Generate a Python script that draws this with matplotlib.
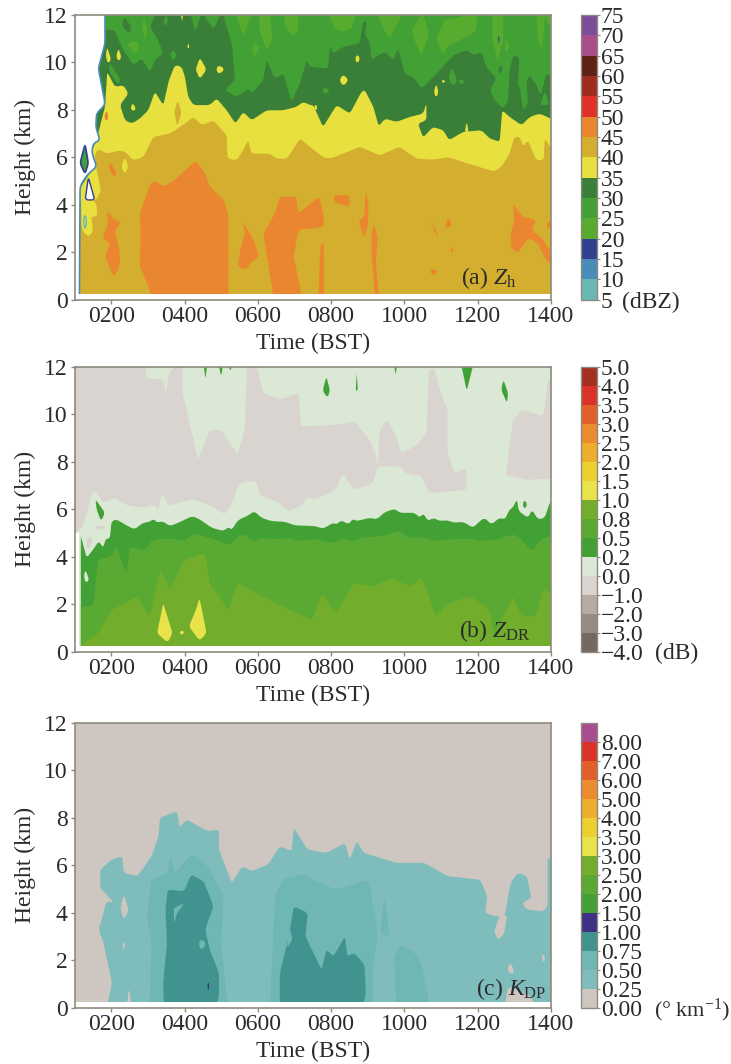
import matplotlib
matplotlib.use('Agg')
import matplotlib.pyplot as plt
from matplotlib.cm import ScalarMappable
from matplotlib.colors import BoundaryNorm, ListedColormap

plt.rcParams['font.family'] = ['Liberation Serif', 'DejaVu Serif']
plt.rcParams['mathtext.fontset'] = 'custom'
plt.rcParams['mathtext.rm'] = 'Liberation Serif'
plt.rcParams['mathtext.it'] = 'Liberation Serif:italic'

TXT = '#2b2b2b'
SPINE = '#8f8a7e'

# colour bars, bottom band first
zh_levels = [5, 10, 15, 20, 25, 30, 35, 40, 45, 50, 55, 60, 65, 70, 75]
zh_labels = ['5', '10', '15', '20', '25', '30', '35', '40', '45', '50', '55', '60', '65', '70', '75']
zh_colors = ['#68b8b5', '#4a8cb9', '#33408f', '#57ab2e', '#41a135', '#3a7f37', '#e8e03e',
             '#d4ae2e', '#ea8630', '#e03228', '#a02c20', '#5f2015', '#a84e8c', '#7a4e98']

zdr_levels = [-4, -3, -2, -1, 0, 0.2, 0.5, 0.8, 1, 1.5, 2, 2.5, 3, 3.5, 4, 5]
zdr_labels = ['\u22124.0', '\u22123.0', '\u22122.0', '\u22121.0', '0.0', '0.2', '0.5', '0.8',
              '1.0', '1.5', '2.0', '2.5', '3.0', '3.5', '4.0', '5.0']
zdr_colors = ['#746860', '#978c84', '#b5aba4', '#dad4d0', '#dbe8d5', '#41a135', '#5aa932', '#72ae2c',
              '#e8e34a', '#ebd030', '#edae2e', '#eb8c2e', '#e35f2a', '#d9332a', '#a22f20']

kdp_levels = [0, 0.25, 0.5, 0.75, 1, 1.5, 2, 2.5, 3, 3.5, 4, 5, 6, 7, 8, 9]
kdp_labels = ['0.00', '0.25', '0.50', '0.75', '1.00', '1.50', '2.00', '2.50', '3.00', '3.50',
              '4.00', '5.00', '6.00', '7.00', '8.00']
kdp_colors = ['#cec6c0', '#7fbdbd', '#6fb7b3', '#41938f', '#3f2f85', '#41a135', '#5aa932', '#72ae2c',
              '#e8e34a', '#ebd030', '#edae2e', '#eb8c2e', '#e35f2a', '#d9332a', '#a84e90']

time_ticks = [2, 4, 6, 8, 10, 12, 14]
time_labels = ['0200', '0400', '0600', '0800', '1000', '1200', '1400']
height_ticks = [0, 2, 4, 6, 8, 10, 12]

# ---- panel a, contour outlines as (hour, km) ----
zh_30_top = [(1.0, 11.5), (2.10, 11.36), (2.28, 10.66), (2.60, 9.89), (2.83, 10.17), (3.06, 9.6), (3.19, 10.1),
             (3.42, 10.38), (3.28, 10.94), (3.06, 11.5), (3.22, 12.1), (5.05, 12.1), (5.15, 11.5), (5.29, 10.8),
             (5.375, 9.25), (5.10, 8.83), (5.42, 8.55), (5.74, 8.9), (5.83, 8.69), (6.15, 9.25), (6.24, 10.1),
             (6.47, 9.32), (6.69, 9.53), (6.92, 8.34), (7.15, 9.11), (7.33, 10.1), (7.42, 9.82), (7.87, 9.75),
             (7.92, 9.82), (7.97, 10.73), (8.06, 10.38), (8.33, 10.66), (8.78, 10.8), (8.87, 11.72), (8.97, 11.72),
             (8.92, 11.2), (9.06, 10.8), (9.10, 10.1), (9.28, 10.3), (9.47, 10.45), (9.69, 10.1), (9.83, 10.59),
             (10.01, 9.53), (10.24, 9.39), (10.47, 8.9), (10.92, 9.6), (11.33, 10.3), (11.69, 10.52), (11.92, 10.3),
             (12.1, 10.45), (12.24, 9.8), (12.51, 9.32), (12.33, 8.83), (12.47, 8.4), (12.69, 8.05), (12.83, 8.4),
             (12.87, 9.67), (12.97, 10.3), (13.13, 10.24), (13.1, 8.97), (13.15, 8.97), (13.24, 7.98), (13.37, 8.27),
             (13.33, 9.25), (13.42, 9.46), (13.6, 9.04), (13.72, 8.6), (13.87, 9.53), (14.1, 9.4)]
zh_35_top = [(1.0, 6.0), (1.15, 4.7), (1.4, 5.3), (1.6, 5.6), (1.45, 6.2), (1.6, 6.75), (1.83, 8.13), (1.89, 9.6),
             (2.10, 8.97), (2.33, 9.04), (2.47, 8.69), (2.24, 8.2), (2.375, 7.56), (2.56, 7.42), (2.78, 7.63),
             (3.01, 7.98), (3.19, 8.76), (3.42, 8.2), (3.575, 9.25), (3.74, 9.89), (3.92, 9.82), (4.01, 9.39),
             (4.10, 8.55), (4.24, 8.2), (4.69, 8.2), (4.875, 8.48), (5.15, 7.98), (5.39, 7.42), (5.6, 7.91),
             (5.83, 7.56), (6.24, 7.98), (6.69, 7.98), (7.06, 8.13), (7.24, 8.34), (7.42, 8.2), (7.51, 8.2),
             (7.78, 7.28), (8.15, 8.2), (8.51, 7.84), (8.83, 8.76), (8.92, 8.83), (9.15, 8.13), (9.30, 7.31),
             (9.47, 7.63), (9.78, 7.49), (10.15, 7.7), (10.51, 7.84), (10.6, 8.27), (10.6, 7.56), (10.37, 7.42),
             (10.51, 6.83), (10.78, 7.28), (11.06, 7.14), (11.22, 6.72), (11.6, 7.07), (12.1, 7.14), (12.33, 6.79),
             (12.6, 6.65), (12.67, 7.98), (12.87, 7.7), (13.2, 7.35), (13.42, 7.7), (13.69, 7.84), (14.1, 7.56)]
zh_40_top = [(1.0, 4.2), (1.6, 4.2), (1.72, 4.6), (1.6, 5.5), (1.55, 6.1), (1.65, 6.36), (1.875, 6.15), (2.24, 6.29),
             (2.4, 6.2), (2.6, 5.87), (2.875, 6.01), (3.15, 6.86), (3.6, 7.0), (4.01, 7.42), (4.24, 7.7), (4.47, 7.35),
             (4.78, 7.56), (5.15, 6.93), (5.175, 5.94), (5.42, 5.87), (5.6, 6.3), (5.74, 6.72), (5.83, 6.15),
             (6.33, 6.15), (6.51, 5.94), (6.8, 5.94), (7.15, 6.79), (7.42, 6.44), (7.78, 6.0), (7.97, 5.94),
             (8.33, 6.15), (8.78, 6.44), (9.33, 6.08), (9.87, 6.44), (10.33, 5.94), (10.8, 5.9), (11.2, 6.0),
             (11.7, 5.75), (12.45, 5.4), (12.65, 5.6), (12.87, 6.15), (13.0, 6.86), (13.15, 6.86), (13.24, 6.44),
             (13.37, 6.72), (13.6, 5.87), (13.8, 5.87), (13.83, 6.79), (14.1, 6.15)]

zh_45_blobs = [
    [(3.15, 0.25), (3.03, 0.5), (2.78, 1.4), (2.8, 2.8), (2.78, 3.63), (3.04, 4.76), (3.16, 5.04), (3.42, 4.76),
     (3.67, 4.97), (4.31, 5.85), (4.56, 5.32), (4.69, 4.76), (5.07, 4.2), (5.2, 3.5), (5.2, 0.25)],
    [(1.875, 3.76), (2.06, 3.4), (2.28, 3.27), (2.1, 2.9), (2.22, 2.07), (2.24, 1.5), (2.08, 0.94), (1.83, 1.79),
     (1.97, 2.35), (1.76, 2.63), (1.92, 3.2)],
    [(1.97, 5.8), (2.15, 5.3), (2.06, 5.17), (1.92, 5.6)],
    [(5.58, 3.28), (5.9, 2.5), (6.03, 1.8), (5.77, 1.52), (5.71, 1.24), (5.45, 1.38), (5.52, 2.08), (5.65, 2.79)],
    [(6.6, 4.34), (7.04, 4.34), (7.1, 3.63), (7.68, 4.34), (7.8, 3.49), (7.8, 3.07), (7.1, 2.93), (6.98, 1.8),
     (7.17, 0.39), (7.17, 0.25), (6.47, 0.25), (6.15, 2.79), (6.47, 3.63)],
    [(7.72, 2.37), (7.8, 2.37), (7.8, 0.25), (7.65, 0.25), (7.68, 1.4)],
    [(8.06, 4.4), (8.5, 4.4), (8.5, 3.9), (8.1, 4.1)],
    [(8.95, 4.55), (9.02, 4.0), (9.0, 3.1), (8.9, 2.6), (8.75, 3.3), (8.9, 3.5)],
    [(9.17, 3.2), (9.27, 2.6), (9.22, 1.5), (9.33, 0.25), (9.22, 0.25), (9.1, 2.0), (9.1, 2.7)],
    [(10.73, 3.28), (10.95, 2.65), (10.85, 2.75)],
    [(11.2, 3.5), (11.3, 3.1), (11.1, 3.0)],
    [(11.3, 2.3), (11.35, 2.0), (11.25, 2.0)],
    [(10.7, 1.3), (10.95, 1.2), (10.75, 1.0)],
    [(12.96, 4.05), (13.21, 3.5), (13.6, 3.35), (13.47, 2.93), (13.72, 2.65), (14.1, 1.8), (14.1, 1.3), (13.85, 1.7),
     (13.65, 2.35), (13.4, 2.6), (13.2, 2.2), (13.09, 1.95), (12.9, 2.2), (12.9, 2.8), (13.0, 3.3)],
    [(14.1, 3.6), (13.85, 3.1), (14.1, 2.9)],
    [(1.87, 8.0), (1.93, 7.7), (1.87, 7.5), (1.8, 7.7)],
]
zh_40_blobs = [
    [(3.81, 8.4), (3.92, 7.9), (3.8, 7.3), (3.72, 7.9)],
]
zh_35_blobs = [
    [(1.89, 10.65), (2.0, 10.1), (1.9, 9.95), (1.85, 10.3)], [(2.2, 10.6), (2.28, 10.2), (2.2, 10.05), (2.13, 10.25)],
    [(4.42, 10.2), (4.6, 9.7), (4.42, 9.3), (4.3, 9.7)], [(4.94, 9.9), (5.1, 9.7), (4.94, 9.5), (4.85, 9.7)],
    [(2.6, 8.3), (2.68, 8.0), (2.58, 7.95), (2.52, 8.1)], [(4.1, 10.85), (4.14, 10.6), (4.07, 10.6)],
    [(3.9, 12.1), (3.97, 12.1), (3.93, 11.7)], [(8.33, 9.5), (8.48, 9.25), (8.33, 9.0), (8.22, 9.25)],
    [(8.71, 10.35), (8.8, 10.15), (8.71, 9.95), (8.65, 10.15)], [(10.87, 9.1), (10.93, 8.75), (10.87, 8.5), (10.8, 8.75)],
    [(11.0, 9.25), (11.13, 9.25), (11.06, 9.1)], [(11.7, 7.5), (11.75, 7.1), (11.7, 6.9), (11.65, 7.1)],
    [(7.58, 8.25), (7.63, 8.1), (7.58, 7.95), (7.53, 8.1)], [(2.37, 6.0), (2.47, 5.6), (2.37, 5.3), (2.27, 5.6)],
    [(1.27, 4.6), (1.6, 4.0), (1.62, 3.5), (1.45, 3.5), (1.5, 3.0), (1.45, 2.7), (1.3, 2.7), (1.2, 3.0), (1.17, 4.4)],
]
zh_25_blobs = [
    [(3.68, 10.55), (3.8, 10.3), (3.68, 10.05), (3.6, 10.3)], [(3.5, 12.1), (3.55, 11.7), (3.47, 11.5), (3.43, 11.7)],
    [(4.15, 12.1), (4.47, 12.1), (4.3, 11.3)], [(4.51, 12.1), (5.0, 12.1), (4.8, 11.4), (4.6, 11.8)],
    [(1.95, 10.0), (2.25, 9.3), (2.2, 9.05), (1.95, 9.6)], [(11.3, 9.8), (11.45, 9.2), (11.3, 9.0), (11.2, 9.4)],
    [(11.55, 9.3), (11.65, 9.2), (11.55, 9.05), (11.47, 9.2)], [(7.83, 8.95), (7.98, 8.8), (7.83, 8.65), (7.75, 8.8)],
    [(13.7, 8.2), (13.83, 8.8), (13.95, 8.2)],
]
zh_30_blobs = [
    [(2.35, 11.95), (2.55, 11.5), (2.5, 11.2), (2.3, 11.5)], [(12.58, 9.85), (12.68, 9.85), (12.66, 9.55), (12.57, 9.55)],
]
zh_20_blobs = [
    [(2.42, 10.8), (2.75, 10.9), (2.72, 10.4), (2.6, 10.4)], [(2.88, 11.9), (3.0, 11.4), (2.92, 10.9), (2.85, 11.4)],
    [(5.38, 12.1), (5.85, 12.1), (5.6, 11.1)], [(6.03, 12.1), (6.33, 12.1), (6.4, 11.0), (6.25, 10.5), (6.05, 11.3)],
    [(6.7, 12.1), (7.1, 12.1), (7.1, 11.3), (6.95, 11.1), (6.75, 11.5)], [(5.9, 10.85), (6.05, 10.6), (5.9, 10.2), (5.85, 10.6)],
    [(7.92, 12.1), (8.7, 12.1), (8.55, 11.4), (8.3, 11.3), (8.1, 11.4)],
    [(9.25, 12.1), (9.95, 12.1), (9.8, 11.6), (9.6, 11.0), (9.4, 11.5)],
    [(10.2, 11.4), (10.5, 12.1), (10.67, 11.2), (10.47, 10.25), (10.25, 11.0)],
    [(10.87, 11.0), (11.1, 11.8), (11.5, 11.9), (11.85, 12.1), (12.0, 12.1), (11.95, 11.3), (11.6, 11.0), (11.2, 10.7), (11.05, 10.3)],
    [(12.4, 12.1), (12.7, 12.1), (12.7, 11.0), (12.55, 10.0), (12.4, 11.0)], [(12.75, 11.0), (12.9, 10.7), (12.75, 10.4)],
    [(13.6, 12.1), (13.85, 12.1), (13.8, 11.3), (13.75, 10.6), (13.65, 10.9)], [(13.85, 12.1), (14.1, 12.1), (14.1, 11.6), (13.9, 11.6)],
]
zh_15_blobs = [[(12.55, 11.1), (12.6, 11.1), (12.58, 10.7)]]
# no echo to the left of this outline
zh_no_echo = [(0.8, 12.4), (1.83, 12.4), (1.83, 10.8), (1.65, 9.75), (1.83, 8.27), (1.78, 8.13), (1.6, 7.85), (1.58, 7.28),
              (1.69, 6.72), (1.51, 6.58), (1.47, 6.22), (1.6, 5.6), (1.375, 5.3), (1.23, 5.0), (1.15, 4.74), (1.13, -0.2), (0.8, -0.2)]
zh_hole = [(1.375, 5.15), (1.55, 4.2), (1.29, 4.2)]
zh_diamond = [(1.285, 6.55), (1.15, 5.75), (1.285, 5.3), (1.375, 5.75)]
zh_small_diamond = [(1.285, 3.6), (1.33, 3.3), (1.285, 2.95), (1.24, 3.3)]

# ---- panel b ----
zdr_neg_main = [(0.8, 12.2), (2.91, 12.2), (2.97, 11.53), (3.42, 11.46), (3.48, 10.9), (3.61, 11.88), (3.95, 12.1), (3.95, 10.9),
                (4.18, 9.35), (4.37, 8.09), (4.69, 9.35), (5.01, 9.35), (5.45, 8.3), (5.64, 9.35), (5.71, 12.1), (5.96, 12.1),
                (6.15, 10.9), (6.6, 10.62), (7.11, 10.9), (7.17, 9.49), (8.12, 9.56), (8.63, 9.7), (9.02, 9.0), (9.24, 8.23),
                (9.27, 7.74), (9.33, 9.35), (9.52, 9.77), (9.78, 9.07), (9.9, 8.37), (10.29, 8.65), (10.6, 9.21), (10.67, 11.88),
                (10.82, 11.95), (10.99, 10.9), (11.18, 10.2), (11.18, 8.37), (11.37, 7.52), (11.69, 7.74), (11.69, 6.82),
                (10.67, 6.68), (10.48, 7.38), (10.03, 7.52), (9.9, 7.81), (9.27, 7.81), (9.14, 7.1), (8.63, 6.82), (8.32, 7.52),
                (8.12, 6.82), (7.56, 6.42), (7.33, 6.49), (7.19, 6.14), (6.83, 5.92), (6.56, 6.28), (6.05, 6.63), (5.96, 7.17),
                (5.58, 7.17), (5.42, 6.84), (5.35, 6.42), (5.1, 5.78), (4.74, 6.14), (4.24, 6.42), (3.83, 6.28), (3.56, 6.14),
                (3.39, 6.7), (3.28, 5.92), (3.19, 6.2), (2.83, 6.07), (2.37, 6.2), (2.1, 6.49), (1.78, 6.28), (1.69, 6.49),
                (1.6, 6.77), (1.46, 6.7), (1.37, 6.0), (1.19, 5.15), (0.8, 4.9)]
zdr_neg_right = [(12.77, 7.45), (12.96, 9.77), (13.21, 10.2), (13.79, 9.92), (13.91, 11.32), (14.1, 11.74), (14.1, 7.3), (13.34, 7.24)]
zdr_neg_blobs = [[(1.35, 4.85), (1.5, 4.8), (1.4, 4.3), (1.32, 4.4)], [(1.56, 5.3), (1.82, 5.3), (1.82, 5.15), (1.56, 5.15)]]
zdr_02_top = [(1.17, 4.87), (1.33, 3.95), (1.54, 4.37), (1.66, 4.66), (1.78, 4.37), (1.85, 4.76), (1.96, 4.76), (2.01, 5.5),
              (2.15, 5.57), (2.37, 5.36), (2.63, 5.15), (2.87, 5.43), (3.03, 5.46), (3.17, 5.6), (3.24, 5.43), (3.39, 5.5),
              (3.6, 5.29), (3.83, 5.43), (4.21, 5.71), (4.42, 5.57), (4.74, 5.22), (5.06, 5.08), (5.21, 5.26), (5.28, 5.12),
              (5.46, 5.54), (5.74, 5.74), (5.9, 5.92), (6.1, 5.64), (6.37, 5.5), (6.74, 5.47), (7.01, 5.32), (7.56, 5.29),
              (7.78, 5.18), (8.06, 5.43), (8.15, 5.36), (8.28, 5.54), (8.47, 5.36), (8.6, 5.6), (8.69, 5.5), (9.06, 5.64),
              (9.24, 5.57), (9.47, 5.88), (9.74, 6.02), (9.87, 5.85), (10.28, 5.85), (10.42, 5.64), (10.51, 5.83), (10.65, 5.5),
              (10.78, 5.64), (10.97, 5.5), (11.15, 5.54), (11.37, 5.43), (11.6, 5.47), (11.87, 5.22), (12.06, 5.5), (12.19, 5.64),
              (12.37, 5.36), (12.6, 5.64), (12.74, 5.57), (12.87, 5.99), (12.96, 6.07), (13.07, 6.42), (13.12, 5.92), (13.37, 5.64),
              (13.48, 5.97), (13.65, 5.57), (13.83, 5.64), (13.97, 6.3), (14.1, 6.4)]
zdr_05_top = [(1.17, 1.9), (1.51, 1.9), (1.64, 3.87), (2.01, 4.0), (2.15, 4.45), (2.26, 3.9), (2.42, 3.31), (2.51, 4.45), (2.87, 4.23),
              (3.15, 4.73), (3.65, 4.76), (4.01, 4.66), (4.24, 4.97), (4.51, 4.87), (4.83, 4.73), (5.24, 4.47), (5.46, 4.87), (5.65, 4.94),
              (5.87, 4.66), (6.19, 4.8), (6.46, 4.73), (6.83, 4.8), (7.1, 4.66), (7.56, 4.75), (7.83, 4.66), (8.1, 4.59), (8.33, 4.8),
              (8.56, 4.66), (8.87, 4.8), (9.37, 4.87), (9.87, 5.08), (10.1, 4.8), (10.56, 4.8), (10.74, 4.66), (11.19, 4.73), (11.83, 4.76),
              (12.06, 4.66), (12.47, 4.73), (13.01, 4.94), (13.19, 4.73), (13.47, 4.23), (13.74, 4.73), (13.97, 4.87), (14.1, 4.8)]
zdr_08_top = [(1.17, 0.28), (1.64, 0.77), (2.02, 1.76), (2.72, 2.32), (3.04, 1.48), (3.35, 3.45), (3.61, 2.6), (3.99, 3.87), (4.56, 4.15),
              (4.69, 2.88), (5.2, 1.76), (5.45, 2.88), (5.96, 2.46), (6.85, 1.76), (7.49, 1.34), (7.74, 2.46), (8.12, 1.62), (8.63, 2.88),
              (9.14, 2.74), (9.65, 3.09), (10.16, 2.74), (10.48, 3.16), (10.86, 1.48), (11.18, 2.04), (11.81, 2.32), (12.32, 1.76), (12.45, 0.63),
              (12.96, 2.32), (13.21, 1.48), (13.6, 1.48), (13.79, 2.67), (14.1, 2.32)]
zdr_1_blobs = [
    [(3.42, 2.04), (3.67, 0.77), (3.54, 0.38), (3.25, 0.77)],
    [(4.41, 2.25), (4.6, 0.77), (4.41, 0.46), (4.12, 1.05), (4.31, 1.76)],
    [(3.93, 0.9), (4.0, 0.8), (3.93, 0.7), (3.85, 0.8)],
]
zdr_02_blobs = [
    [(4.52, 12.1), (4.62, 12.1), (4.57, 11.5)], [(4.93, 12.1), (5.05, 12.1), (5.0, 11.6)], [(5.2, 12.1), (5.3, 12.1), (5.25, 11.8)],
    [(7.87, 11.6), (7.97, 11.0), (7.9, 10.7), (7.77, 11.0)], [(8.7, 11.75), (8.73, 11.0), (8.67, 11.0)], [(9.72, 12.1), (9.8, 12.1), (9.76, 11.65)],
    [(11.55, 12.1), (11.88, 12.1), (11.7, 11.0)], [(12.7, 11.46), (12.83, 10.9), (12.8, 10.48), (12.64, 11.04)],
    [(1.57, 6.42), (1.83, 5.85), (1.72, 5.5), (1.6, 6.0)], [(13.28, 6.4), (13.36, 6.2), (13.28, 6.0), (13.22, 6.2)],
]
zdr_00_blobs = [[(1.3, 3.45), (1.4, 3.0), (1.3, 2.9), (1.25, 3.2)]]

# ---- panel c ----
kdp_025 = [(1.83, 0.25), (2.02, 1.03), (1.79, 2.72), (1.66, 3.28), (1.87, 4.48), (2.08, 4.41), (1.7, 5.04), (1.7, 5.82), (2.02, 6.24),
           (2.3, 6.38), (2.34, 5.68), (2.72, 5.54), (3.1, 6.38), (3.29, 7.23), (3.33, 8.0), (3.8, 8.28), (3.86, 7.58), (4.05, 7.93),
           (4.63, 7.44), (4.94, 7.51), (4.94, 6.66), (5.29, 5.25), (5.58, 5.96), (5.83, 5.75), (6.28, 6.03), (6.6, 6.8), (6.92, 6.59),
           (6.98, 7.58), (7.36, 6.66), (7.87, 6.52), (8.38, 6.94), (8.51, 6.24), (8.7, 7.01), (8.89, 6.52), (9.78, 6.1), (10.54, 6.1),
           (11.18, 5.54), (12.07, 5.39), (12.26, 4.69), (12.2, 3.99), (12.45, 3.85), (12.73, 3.85), (12.9, 5.25), (13.09, 5.68),
           (13.34, 5.54), (13.47, 4.62), (13.21, 4.41), (13.34, 4.13), (13.79, 4.06), (13.91, 4.27), (13.91, 6.38), (14.1, 5.96),
           (14.1, 0.25), (13.6, 0.25), (13.47, 0.46), (12.83, 0.89), (12.7, 0.25)]
kdp_0_blobs = [
    [(12.6, 3.9), (12.8, 3.9), (12.72, 3.1), (12.55, 2.85), (12.45, 3.2)], [(2.34, 4.76), (2.48, 4.1), (2.34, 3.7), (2.25, 4.2)],
    [(2.4, 0.25), (2.48, 0.8), (2.6, 0.25)], [(12.9, 1.9), (13.0, 1.5), (12.9, 1.4), (12.8, 1.6)],
    [(13.79, 2.3), (13.85, 2.0), (13.79, 1.9), (13.74, 2.1)], [(2.34, 2.8), (2.38, 2.6), (2.34, 2.4), (2.3, 2.6)],
]
kdp_05_blobs = [
    [(3.04, 0.25), (3.1, 2.72), (2.97, 3.85), (3.1, 5.39), (3.54, 5.68), (3.61, 6.31), (3.74, 5.68), (4.05, 6.24), (4.24, 6.45), (4.63, 5.96),
     (4.88, 5.25), (5.07, 4.69), (5.0, 2.72), (5.2, 0.25)],
    [(6.32, 0.25), (6.47, 4.69), (6.66, 5.39), (7.23, 5.61), (8.12, 4.97), (9.02, 5.39), (9.21, 3.85), (9.27, 3.0), (9.14, 1.73), (9.14, 0.25)],
    [(9.46, 4.69), (9.59, 3.0), (9.33, 3.14)],
    [(9.78, 0.25), (9.72, 2.15), (9.9, 2.65), (10.29, 2.3), (10.48, 1.73), (10.73, 0.25)],
]
kdp_075_blobs = [
    [(3.44, 0.25), (3.42, 1.03), (3.52, 2.72), (3.48, 4.13), (3.54, 4.97), (3.99, 4.9), (4.18, 5.61), (4.52, 5.32), (4.63, 4.9), (4.79, 4.27),
     (4.56, 3.28), (4.69, 2.44), (4.94, 1.45), (4.94, 0.46), (4.79, 0.25)],
    [(6.6, 0.25), (6.6, 1.45), (6.85, 3.0), (6.98, 4.27), (7.36, 3.99), (7.3, 3.0), (7.74, 1.59), (7.87, 2.44), (8.06, 2.15), (8.38, 3.0),
     (8.44, 2.15), (8.63, 2.3), (8.91, 1.8), (8.95, 0.6), (8.82, 0.25)],
]
kdp_05_holes = [
    [(3.7, 4.2), (4.0, 4.4), (3.8, 4.0), (3.72, 3.55)], [(4.45, 2.9), (4.6, 2.7), (4.45, 2.4), (4.38, 2.7)], [(6.85, 3.4), (6.95, 2.9), (6.8, 2.5)],
]
kdp_1_blobs = [[(4.65, 1.1), (4.68, 0.9), (4.65, 0.7), (4.62, 0.9)]]


def rounded(path, closed, cut):
    # cut each corner, measured in pixels so long edges keep their shape
    out = []
    n = len(path)
    for i in range(n):
        x, y = path[i]
        if not closed and i in (0, n - 1):
            out.append((x, y))
            continue
        for j in (i - 1, (i + 1) % n):
            dx = (path[j][0] - x) * 36.67
            dy = (path[j][1] - y) * 23.7
            d = max((dx ** 2 + dy ** 2) ** 0.5, 1e-6)
            f = min(0.3, cut / d)
            out.append((x + f * (path[j][0] - x), y + f * (path[j][1] - y)))
    return out


def smooth(path, closed=True):
    # outlines that end on the lowest range gate run on below the white strip
    pts = [(x, -0.3 if y <= 0.25 else y) for x, y in path]
    for cut in (1.8, 0.9):
        pts = rounded(pts, closed, cut)
    return pts


def fill_down(ax, path, color):
    # closes a contour outline down to the bottom of the axes
    pts = smooth(path, closed=False)
    xs = [p[0] for p in pts]
    ys = [p[1] for p in pts]
    ax.fill([xs[0]] + xs + [xs[-1]], [-0.3] + ys + [-0.3], color=color, lw=0)


def fill_blobs(ax, blobs, color):
    for b in blobs:
        pts = smooth(b)
        ax.fill([p[0] for p in pts], [p[1] for p in pts], color=color, lw=0)


def outlined(ax, path, face, edge, width):
    pts = smooth(path)
    ax.fill([p[0] for p in pts], [p[1] for p in pts], facecolor=face, edgecolor=edge, lw=width)


def panel(top, right=551):
    ax = fig.add_axes([74.6 / 731, 1 - (top + 284.5) / 1064, (right - 74.6) / 731, 284.5 / 1064])
    return ax


def finish(ax, label_x, label_y, label):
    ax.fill([1, 14, 14, 1], [0, 0, 0.25, 0.25], color='white', lw=0)
    ax.set_xlim(1, 14)
    ax.set_ylim(0, 12)
    ax.set_xticks(time_ticks, time_labels)
    ax.set_yticks(height_ticks)
    ax.tick_params(labelsize=17, colors=SPINE, labelcolor=TXT, length=3, width=1, pad=2)
    ax.set_xlabel('Time (BST)', fontsize=17, color=TXT, labelpad=4)
    ax.set_ylabel('Height (km)', fontsize=17, color=TXT, labelpad=6)
    for s in ax.spines.values():
        s.set_color(SPINE)
        s.set_linewidth(1.2)
    ax.text(label_x, label_y, label, fontsize=17, color=TXT, va='center')


def colorbar(top, levels, labels, colors):
    cax = fig.add_axes([581 / 731, 1 - (top + 284.5) / 1064, 15.5 / 731, 284.5 / 1064])
    sm = ScalarMappable(norm=BoundaryNorm(levels, len(colors)), cmap=ListedColormap(colors))
    cb = fig.colorbar(sm, cax=cax, spacing='uniform')
    cb.set_ticks(levels[:len(labels)], labels=labels)
    cb.ax.minorticks_off()
    cb.ax.tick_params(labelsize=17, colors=SPINE, labelcolor=TXT, length=2, width=0.8, pad=1)
    cb.outline.set_edgecolor(SPINE)
    cb.outline.set_linewidth(1.0)


fig = plt.figure(figsize=(7.31, 10.64), dpi=100)

# (a) Zh
ax = panel(15)
ax.fill([1, 14, 14, 1], [0, 0, 12, 12], color=zh_colors[4], lw=0)
fill_blobs(ax, zh_20_blobs, zh_colors[3])
fill_down(ax, zh_30_top, zh_colors[5])
fill_blobs(ax, zh_25_blobs, zh_colors[4])
fill_blobs(ax, zh_30_blobs, zh_colors[5])
fill_down(ax, zh_35_top, zh_colors[6])
fill_blobs(ax, zh_35_blobs, zh_colors[6])
fill_down(ax, zh_40_top, zh_colors[7])
fill_blobs(ax, zh_35_blobs[-2:], zh_colors[6])
fill_blobs(ax, zh_40_blobs, zh_colors[7])
fill_blobs(ax, zh_45_blobs, zh_colors[8])
fill_blobs(ax, zh_15_blobs, zh_colors[2])
outlined(ax, zh_no_echo, 'white', zh_colors[1], 1.2)
outlined(ax, zh_hole, 'white', zh_colors[2], 1.0)
outlined(ax, zh_diamond, zh_colors[4], zh_colors[2], 1.2)
outlined(ax, zh_small_diamond, zh_colors[6], zh_colors[0], 1.0)
finish(ax, 11.54, 0.9, r'(a) $Z_{\mathrm{h}}$')
colorbar(15, zh_levels, zh_labels, zh_colors)
fig.text(622 / 731, 1 - 302 / 1064, '(dBZ)', fontsize=17, color=TXT, va='center')

# (b) ZDR
ax = panel(367)
ax.fill([1, 14, 14, 1], [0, 0, 12, 12], color=zdr_colors[4], lw=0)
fill_blobs(ax, [zdr_neg_main, zdr_neg_right] + zdr_neg_blobs, zdr_colors[3])
fill_down(ax, zdr_02_top, zdr_colors[5])
fill_blobs(ax, zdr_02_blobs, zdr_colors[5])
fill_down(ax, zdr_05_top, zdr_colors[6])
fill_down(ax, zdr_08_top, zdr_colors[7])
fill_blobs(ax, zdr_00_blobs, zdr_colors[4])
fill_blobs(ax, zdr_1_blobs, zdr_colors[8])
ax.fill([1, 1.13, 1.13, 1], [0, 0, 5.0, 5.0], color='white', lw=0)
finish(ax, 11.5, 0.85, r'(b) $Z_{\mathrm{DR}}$')
colorbar(367, zdr_levels, zdr_labels, zdr_colors)
fig.text(655 / 731, 1 - 653 / 1064, '(dB)', fontsize=17, color=TXT, va='center')

# (c) KDP
ax = panel(723)
ax.fill([1, 14, 14, 1], [0, 0, 12, 12], color=kdp_colors[0], lw=0)
fill_blobs(ax, [kdp_025], kdp_colors[1])
fill_blobs(ax, kdp_0_blobs, kdp_colors[0])
fill_blobs(ax, kdp_05_blobs, kdp_colors[2])
fill_blobs(ax, kdp_075_blobs, kdp_colors[3])
fill_blobs(ax, kdp_05_holes, kdp_colors[2])
fill_blobs(ax, kdp_1_blobs, kdp_colors[4])
finish(ax, 11.95, 0.8, r'(c) $K_{\mathrm{DP}}$')
colorbar(723, kdp_levels, kdp_labels, kdp_colors)
fig.text(654 / 731, 1 - 1010 / 1064, '(\u00b0 km$^{\u22121}$)', fontsize=16, color=TXT, va='center')

fig.savefig('out.png', dpi=100)
